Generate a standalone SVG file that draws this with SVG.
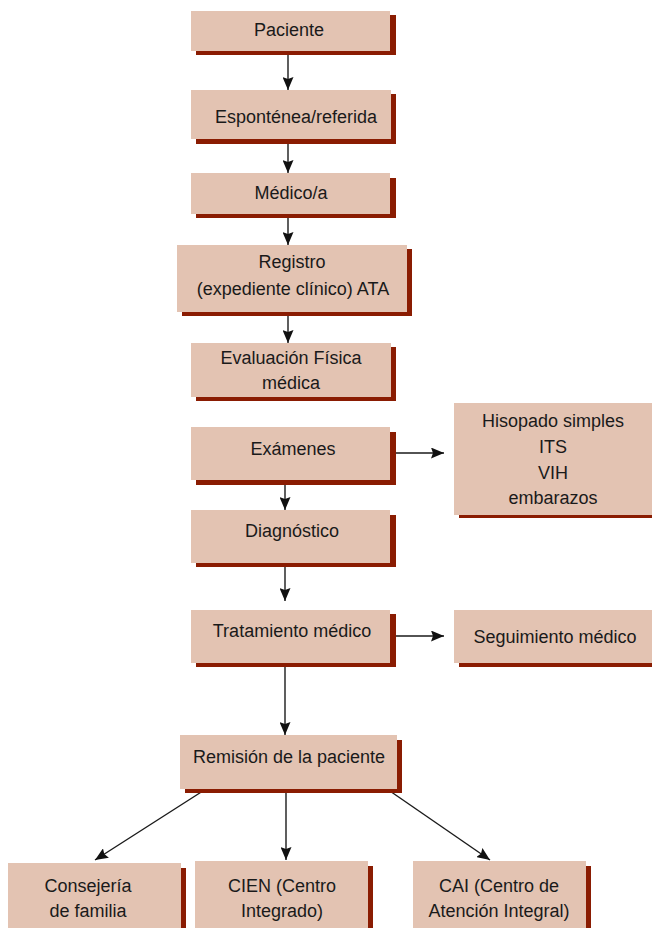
<svg xmlns="http://www.w3.org/2000/svg" width="652" height="928" viewBox="0 0 652 928">
<style>
.box{fill:#E3C3B2}
.sh{fill:#8A1C02}
.t{font-family:"Liberation Sans",Arial,sans-serif;font-size:18px;fill:#1a1a1a;text-anchor:middle}
.c{stroke:#1a1a1a;stroke-width:1.4;fill:none;marker-end:url(#ah)}
</style>
<defs>
<marker id="ah" viewBox="0 0 13 11" refX="13" refY="5.5" markerWidth="13" markerHeight="11" orient="auto" markerUnits="userSpaceOnUse">
<path d="M0,0 L13,5.5 L0,11 L2,5.5 z" fill="#111"/>
</marker>
</defs>
<rect width="652" height="928" fill="#fff"/>
<g id="connectors">
<line class="c" x1="288" y1="55" x2="288" y2="90"/>
<line class="c" x1="288" y1="144" x2="288" y2="173"/>
<line class="c" x1="288" y1="218" x2="288" y2="245"/>
<line class="c" x1="288" y1="316" x2="288" y2="343"/>
<line class="c" x1="396" y1="453" x2="444" y2="453"/>
<line class="c" x1="285" y1="485" x2="285" y2="510"/>
<line class="c" x1="285" y1="567" x2="285" y2="601"/>
<line class="c" x1="396" y1="636" x2="444" y2="636"/>
<line class="c" x1="285" y1="667" x2="285" y2="735"/>
<line class="c" x1="206" y1="789" x2="95" y2="860"/>
<line class="c" x1="286" y1="793" x2="286" y2="860"/>
<line class="c" x1="387" y1="789" x2="490" y2="860"/>
</g>
<g id="paciente">
<rect class="sh" x="196" y="15" width="200" height="40"/>
<rect class="box" x="191" y="11" width="199" height="40"/>
<text class="t" x="289" y="36">Paciente</text>
</g>
<g id="espontanea">
<rect class="sh" x="196" y="94" width="200" height="50"/>
<rect class="box" x="191" y="90" width="200" height="49"/>
<text class="t" x="296" y="123">Esponténea/referida</text>
</g>
<g id="medico">
<rect class="sh" x="196" y="178" width="200" height="40"/>
<rect class="box" x="191" y="173" width="199" height="41"/>
<text class="t" x="291" y="199">Médico/a</text>
</g>
<g id="registro">
<rect class="sh" x="182" y="249" width="230" height="67"/>
<rect class="box" x="177" y="245" width="230" height="67"/>
<text class="t" x="292" y="268">Registro</text>
<text class="t" x="293" y="295">(expediente clínico) ATA</text>
</g>
<g id="evaluacion">
<rect class="sh" x="196" y="347" width="200" height="54"/>
<rect class="box" x="191" y="343" width="200" height="54"/>
<text class="t" x="291" y="364">Evaluación Física</text>
<text class="t" x="291" y="389">médica</text>
</g>
<g id="examenes">
<rect class="sh" x="196" y="432" width="200" height="53"/>
<rect class="box" x="191" y="427" width="199" height="53"/>
<text class="t" x="293" y="455">Exámenes</text>
</g>
<g id="hisopado">
<rect class="sh" x="459" y="407" width="200" height="111"/>
<rect class="box" x="454" y="403" width="200" height="112"/>
<text class="t" x="553" y="427">Hisopado simples</text>
<text class="t" x="553" y="453">ITS</text>
<text class="t" x="553" y="479">VIH</text>
<text class="t" x="553" y="504">embarazos</text>
</g>
<g id="diagnostico">
<rect class="sh" x="196" y="515" width="200" height="52"/>
<rect class="box" x="191" y="510" width="199" height="53"/>
<text class="t" x="292" y="537">Diagnóstico</text>
</g>
<g id="tratamiento">
<rect class="sh" x="196" y="614" width="200" height="53"/>
<rect class="box" x="191" y="610" width="199" height="53"/>
<text class="t" x="292" y="637">Tratamiento médico</text>
</g>
<g id="seguimiento">
<rect class="sh" x="459" y="614" width="200" height="53"/>
<rect class="box" x="454" y="610" width="200" height="53"/>
<text class="t" x="555" y="643">Seguimiento médico</text>
</g>
<g id="remision">
<rect class="sh" x="185" y="740" width="217" height="53"/>
<rect class="box" x="180" y="735" width="217" height="54"/>
<text class="t" x="289" y="763">Remisión de la paciente</text>
</g>
<g id="consejeria">
<rect class="sh" x="13" y="868" width="173" height="70"/>
<rect class="box" x="8" y="863" width="173" height="70"/>
<text class="t" x="88" y="892">Consejería</text>
<text class="t" x="88" y="917">de familia</text>
</g>
<g id="cien">
<rect class="sh" x="200" y="866" width="173" height="70"/>
<rect class="box" x="195" y="861" width="173" height="70"/>
<text class="t" x="282" y="892">CIEN (Centro</text>
<text class="t" x="282" y="917">Integrado)</text>
</g>
<g id="cai">
<rect class="sh" x="418" y="866" width="173" height="70"/>
<rect class="box" x="413" y="861" width="173" height="70"/>
<text class="t" x="499" y="892">CAI (Centro de</text>
<text class="t" x="499" y="917">Atención Integral)</text>
</g>
</svg>
